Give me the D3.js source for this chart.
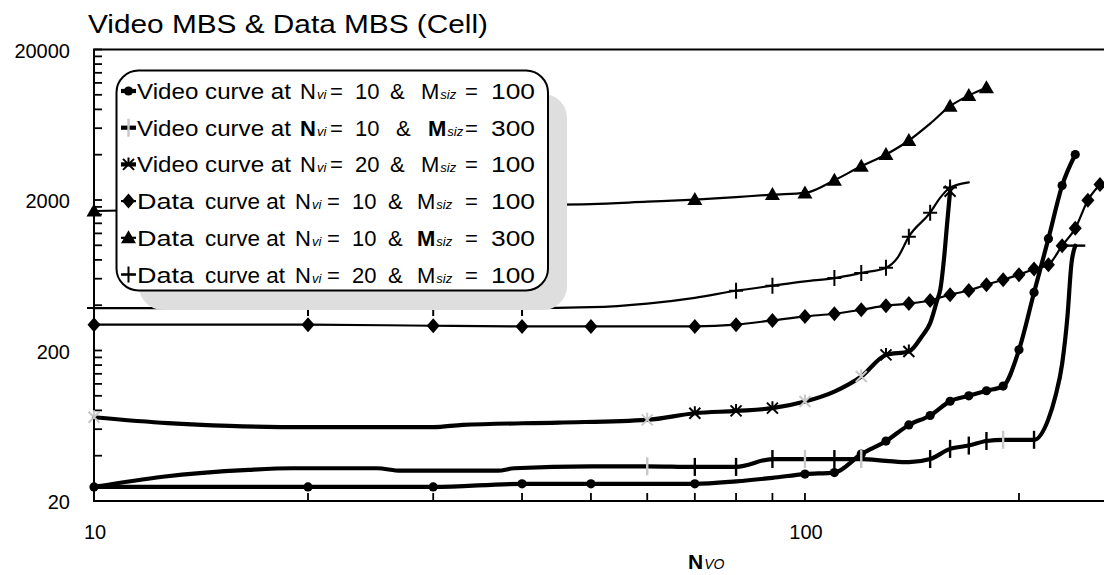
<!DOCTYPE html>
<html><head><meta charset="utf-8">
<script src="https://cdn.jsdelivr.net/npm/d3@7"></script>
<style>
body{margin:0;background:#fff}
svg{display:block}
text{font-family:"Liberation Sans",Arial,Helvetica,sans-serif;fill:#000}
</style>
</head><body>
<svg id="c" width="1104" height="575"></svg>
<script>
// ---------------- data ----------------
const titleText = "Video MBS & Data MBS (Cell)";
const xTickLabels = [10, 100];
const yTickLabels = [20, 200, 2000, 20000];
const xAxisMain = "N", xAxisSub = "VO";

// Video curve at Nvi = 10 & Msiz = 100 (filled circles)
const videoA_x = [10,20,30,40,50,60,70,80,90,100,110,120,130,140,150,160,170,180,190,200,210,220,230,240];
const videoA_y = [24.8,24.8,24.8,26,26,26,26,27,28.5,30.2,30.9,41,50,64,74,92,100,108,116,202,486,1107,2494,4010];
const videoA_marks = [10,20,30,40,50,70,100,110,120,130,140,150,160,170,180,190,200,210,220,230,240];
const videoA_faint = [];

// Video curve at Nvi = 10 & Msiz = 300 (bar markers)
const videoB_x = [10,12.5,16.5,19,25,27,37,39,50,60,70,80,90,100,110,120,130,140,150,160,170,180,190,200,210,220,225,230,234,237,240];
const videoB_y = [24.8,29,32.2,33,33,31.8,31.8,33,34,34,33.7,33.7,38,38,38,38,37,36.2,38,44.4,46.7,50.1,51,51,51,70,99,163,337,750,995];
const videoB_marks = [70,80,90,110,150,160,170,180,210];
const videoB_faint = [20,30,60,100,120,190];
const videoB_end = [240];

// Video curve at Nvi = 20 & Msiz = 100 (star)
const videoC_x = [10,12.7,15.5,20,30,33,45,60,70,80,90,100,110,120,130,140,146,150,153.5,155,157,158.5,160];
const videoC_y = [72,65.8,63.1,61.9,61.9,64.1,66.4,69.2,76.6,79.4,82.8,91.6,106.7,134.3,187,197,248,304,435,507,844,1408,2286];
const videoC_marks = [70,80,90,130,140,160];
const videoC_faint = [10,60,100,120];

// Data curve at Nvi = 10 & Msiz = 100 (diamonds)
const dataA_x = [10,20,30,40,50,70,80,90,100,110,120,130,140,150,160,170,180,190,200,210,220,230,240,250,260];
const dataA_y = [297,297,292,289,289,289,297,317,337,351,373,397,410,430,470,501,547,591,638,696,743,995,1296,1990,2532];
const dataA_marks = dataA_x;
const dataA_faint = [];

// Data curve at Nvi = 10 & Msiz = 300 (triangles)
const dataB_x = [10,20,30,40,50,60,70,80,90,100,110,120,130,140,150,160,170,180];
const dataB_y = [1690,1790,1830,1860,1880,1950,2012,2090,2172,2230,2705,3352,4010,4970,6440,8400,9900,11140];
const dataB_marks = [10,70,90,100,110,120,130,140,160,170,180];
const dataB_faint = [];

// Data curve at Nvi = 20 & Msiz = 100 (plus)
const dataC_x = [10,20,30,40,50,60,70,80,90,100,110,120,130,135,140,150,155,160,170];
const dataC_y = [383,383,383,383,388,410,448,499,539,576,606,655,710,828,1142,1648,2075,2418,2620];
const dataC_marks = [10,20,30,40,80,90,110,120,130,140,150,160];
const dataC_faint = [];

// legend texts
const legendKind = ["Video","Video","Video","Data","Data","Data"];
const legendRest = "curve at";
const legendNvi = ["10","10","20","10","10","20"];
const legendMsiz = ["100","300","100","100","300","100"];

// ---------------- styles ----------------
const series = [
  {xs: videoA_x, ys: videoA_y, marks: videoA_marks, faint: videoA_faint, end: [], w: 4.2, marker: "circle"},
  {xs: videoB_x, ys: videoB_y, marks: videoB_marks, faint: videoB_faint, end: videoB_end, w: 4.2, marker: "vbar"},
  {xs: videoC_x, ys: videoC_y, marks: videoC_marks, faint: videoC_faint, end: [], w: 4.2, marker: "star"},
  {xs: dataA_x,  ys: dataA_y,  marks: dataA_marks,  faint: dataA_faint,  end: [], w: 2.2, marker: "diamond"},
  {xs: dataB_x,  ys: dataB_y,  marks: dataB_marks,  faint: dataB_faint,  end: [], w: 2.2, marker: "triangle"},
  {xs: dataC_x,  ys: dataC_y,  marks: dataC_marks,  faint: dataC_faint,  end: [], w: 2.2, marker: "plus"}
];

const svg = d3.select("#c");
const x = d3.scaleLog().domain([10, 263.4]).range([94, 1104]);
const y = d3.scaleLog().domain([20, 20000]).range([501, 49.5]);
const X0 = x(10), X1 = 1104, Y0 = y(20), Y1 = y(20000);

// title
svg.append("text").attr("x", 88).attr("y", 33).attr("font-size", 26)
  .attr("textLength", 400).attr("lengthAdjust", "spacingAndGlyphs").text(titleText);

// axes frame
const ax = svg.append("g").attr("stroke", "#000").attr("stroke-width", 2).attr("fill", "none");
ax.append("path").attr("d", `M${X1},${Y1}H${X0}V${Y0}H${X1}`);

// y ticks (inward)
const yTicks = [];
[20, 200, 2000].forEach(b => { for (let k = 1; k <= 9; k++) yTicks.push(b * k); });
yTicks.push(20000);
ax.selectAll(".yt").data(yTicks).join("line")
  .attr("x1", X0).attr("x2", X0 + 8).attr("y1", d => y(d)).attr("y2", d => y(d)).attr("stroke-width", 1.8);

// x ticks (inward)
const xTicks = [];
[10, 100].forEach(b => { for (let k = 2; k <= 9; k++) { const v = b * k; if (v <= 263) xTicks.push(v); } });
xTicks.push(100);
ax.selectAll(".xt").data(xTicks).join("line")
  .attr("x1", d => x(d)).attr("x2", d => x(d)).attr("y1", Y0).attr("y2", Y0 - 8).attr("stroke-width", 1.8);

// tick labels
svg.selectAll(".yl").data(yTickLabels).join("text")
  .attr("x", 70).attr("y", d => y(d) + 8).attr("text-anchor", "end").attr("font-size", 20).text(d => d);
svg.selectAll(".xl").data(xTickLabels).join("text")
  .attr("x", d => x(d) + 1).attr("y", 539).attr("text-anchor", "middle").attr("font-size", 20).text(d => d);

// x axis title
const xt = svg.append("text").attr("x", 688).attr("y", 569);
xt.append("tspan").attr("font-size", 21).attr("font-weight", "bold").text(xAxisMain);
xt.append("tspan").attr("font-size", 14).attr("font-style", "italic").attr("dx", 1).text(xAxisSub);

// markers
function marker(g, type, cx, cy, col) {
  switch (type) {
    case "circle":
      g.append("circle").attr("cx", cx).attr("cy", cy).attr("r", 4.6).attr("fill", col); break;
    case "diamond":
      g.append("path").attr("d", `M${cx},${cy-7.5}L${cx+6.5},${cy}L${cx},${cy+7.5}L${cx-6.5},${cy}Z`).attr("fill", col); break;
    case "triangle":
      g.append("path").attr("d", `M${cx},${cy-7.5}L${cx+7.5},${cy+5.5}L${cx-7.5},${cy+5.5}Z`).attr("fill", col); break;
    case "vbar":
      g.append("path").attr("d", `M${cx},${cy-9}V${cy+9}`)
        .attr("stroke", col).attr("stroke-width", 2.4).attr("fill", "none"); break;
    case "cap":
      g.append("path").attr("d", `M${cx-10},${cy}H${cx+10}`)
        .attr("stroke", col).attr("stroke-width", 2.4).attr("fill", "none"); break;
    case "plus":
      g.append("path").attr("d", `M${cx-7},${cy}H${cx+7}M${cx},${cy-8}V${cy+8}`)
        .attr("stroke", col).attr("stroke-width", 2).attr("fill", "none"); break;
    case "star":
      g.append("path").attr("d", `M${cx-5.5},${cy-5.5}L${cx+5.5},${cy+5.5}M${cx+5.5},${cy-5.5}L${cx-5.5},${cy+5.5}M${cx},${cy-7}V${cy}`)
        .attr("stroke", col).attr("stroke-width", 2).attr("fill", "none"); break;
  }
}

const lineGen = d3.line().curve(d3.curveMonotoneX);
const plot = svg.append("g");
series.forEach(s => {
  const pts = s.xs.map((v, i) => [x(v), y(s.ys[i])]);
  plot.append("path").attr("d", lineGen(pts)).attr("fill", "none")
    .attr("stroke", "#000").attr("stroke-width", s.w).attr("stroke-linejoin", "round").attr("stroke-linecap", "round");
});
series.forEach(s => {
  const g = plot.append("g");
  s.faint.forEach(v => { const i = s.xs.indexOf(v); if (i >= 0) marker(g, s.marker, x(v), y(s.ys[i]), "#c8c8c8"); });
  s.marks.forEach(v => { const i = s.xs.indexOf(v); if (i >= 0) marker(g, s.marker, x(v), y(s.ys[i]), "#000"); });
  s.end.forEach(v => { const i = s.xs.indexOf(v); if (i >= 0) { marker(g, "cap", x(v), y(s.ys[i]), "#000"); } });
});

// legend
const lg = svg.append("g");
lg.append("rect").attr("x", 139).attr("y", 94).attr("width", 428).attr("height", 216).attr("rx", 24).attr("fill", "#dedede");
lg.append("rect").attr("x", 116.5).attr("y", 70.5).attr("width", 431.5).attr("height", 220).attr("rx", 22)
  .attr("fill", "#fff").attr("stroke", "#000").attr("stroke-width", 2);

const boldN = [false, true, false, false, false, false];
const boldM = [false, true, false, false, true, false];
series.forEach((s, i) => {
  const cy = 91 + i * 36.7;
  lg.append("line").attr("x1", 121).attr("x2", 136).attr("y1", cy).attr("y2", cy)
    .attr("stroke", "#000").attr("stroke-width", s.w);
  marker(lg, s.marker, 128.5, cy, s.marker === "vbar" ? "#c8c8c8" : "#000");
  const isData = i >= 3;
  const base = cy + 8;
  const fs = 22;
  if (isData) {
    lg.append("text").attr("x", 137).attr("y", base).attr("font-size", fs)
      .attr("textLength", 57).attr("lengthAdjust", "spacingAndGlyphs").text(legendKind[i]);
    lg.append("text").attr("x", 205).attr("y", base).attr("font-size", fs)
      .attr("textLength", 80).attr("lengthAdjust", "spacingAndGlyphs").text(legendRest);
  } else {
    lg.append("text").attr("x", 137).attr("y", base).attr("font-size", fs)
      .attr("textLength", 154).attr("lengthAdjust", "spacingAndGlyphs").text(legendKind[i] + " " + legendRest);
  }
  const nx = isData ? 295 : 300;
  const tN = lg.append("text").attr("x", nx).attr("y", base).attr("font-size", fs);
  tN.append("tspan").attr("font-weight", boldN[i] ? "bold" : "normal").text("N");
  tN.append("tspan").attr("font-size", 13).attr("font-style", "italic").attr("dx", 1).text("vi");
  lg.append("text").attr("x", isData ? 327 : 330).attr("y", base).attr("font-size", fs).text("=");
  lg.append("text").attr("x", isData ? 352 : 355).attr("y", base).attr("font-size", fs).text(legendNvi[i]);
  lg.append("text").attr("x", isData ? 388 : (i === 1 ? 396 : 390)).attr("y", base).attr("font-size", fs).text("&");
  const mx = isData ? 417 : (i === 1 ? 428 : 421);
  const tM = lg.append("text").attr("x", mx).attr("y", base).attr("font-size", fs);
  tM.append("tspan").attr("font-weight", boldM[i] ? "bold" : "normal").text("M");
  tM.append("tspan").attr("font-size", 13).attr("font-style", "italic").attr("dx", 1).text("siz");
  lg.append("text").attr("x", 465).attr("y", base).attr("font-size", fs).text("=");
  lg.append("text").attr("x", 491).attr("y", base).attr("font-size", fs)
    .attr("textLength", 44).attr("lengthAdjust", "spacingAndGlyphs").text(legendMsiz[i]);
});
</script>
</body></html>
